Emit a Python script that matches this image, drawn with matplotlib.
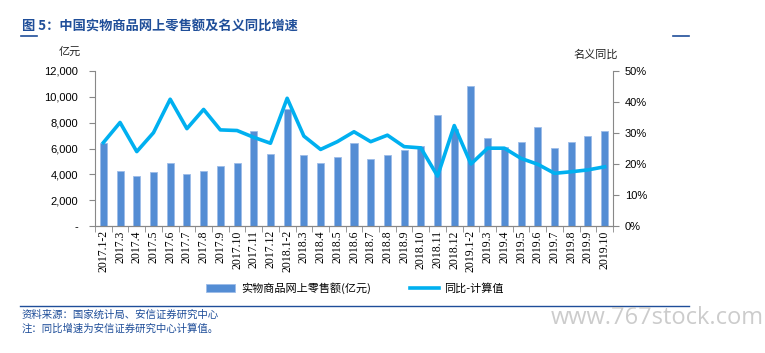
import matplotlib
matplotlib.use("Agg")
import matplotlib.pyplot as plt
from matplotlib.ticker import FuncFormatter
import numpy as np

plt.rcParams['font.family'] = ['Noto Sans CJK SC', 'DejaVu Sans']

categories = ["2017.1-2", "2017.3", "2017.4", "2017.5", "2017.6", "2017.7", "2017.8", "2017.9",
              "2017.10", "2017.11", "2017.12", "2018.1-2", "2018.3", "2018.4", "2018.5", "2018.6",
              "2018.7", "2018.8", "2018.9", "2018.10", "2018.11", "2018.12", "2019.1-2", "2019.3",
              "2019.4", "2019.5", "2019.6", "2019.7", "2019.8", "2019.9", "2019.10"]
sales = [6400, 4260, 3870, 4150, 4880, 4030, 4260, 4670, 4880, 7330, 5600, 9060, 5470, 4880, 5320,
         6400, 5160, 5520, 5880, 6170, 8570, 7480, 10860, 6810, 6090, 6500, 7690, 6040, 6500, 6970, 7330]
yoy = [26.9, 33.4, 24.0, 30.1, 40.9, 31.4, 37.6, 31.0, 30.8, 28.6, 26.7, 41.2, 29.0, 24.7, 27.2,
       30.4, 27.2, 29.3, 25.6, 25.2, 16.1, 32.4, 20.0, 25.1, 25.1, 21.8, 19.9, 17.0, 17.5, 18.1, 19.1]

bar_color = "#548DD4"
line_color = "#00B0F0"
title_color = "#1F4E99"

fig = plt.figure(figsize=(7.65, 3.53), dpi=100)
ax = fig.add_axes([95/765, 1-226/353, 518/765, 155/353])
ax2 = ax.twinx()

x = np.arange(len(categories))
ax.bar(x, sales, width=0.42, color=bar_color, edgecolor="#9DBCE8", linewidth=0.6, zorder=2,
       label="实物商品网上零售额(亿元)")
ax2.plot(x, yoy, color=line_color, lw=2.6, zorder=3, label="同比-计算值")

ax.set_xlim(-0.5, len(categories)-0.5)
ax.set_ylim(0, 12000)
ax.set_yticks(np.arange(0, 12001, 2000))
ax.yaxis.set_major_formatter(FuncFormatter(lambda v, p: "-" if v == 0 else f"{int(v):,}"))
ax2.set_ylim(0, 50)
ax2.set_yticks(np.arange(0, 51, 10))
ax2.yaxis.set_major_formatter(FuncFormatter(lambda v, p: f"{int(v)}%"))

ax.set_xticks(x)
ax.set_xticklabels(categories, rotation=90, fontsize=8.5, family=['Liberation Serif'])
ax.set_xticks(np.arange(-0.5, len(categories), 1), minor=True)
ax.tick_params(axis='x', which='major', length=0, pad=3)
ax.tick_params(axis='x', which='minor', length=4, color="#888888")

for a in (ax, ax2):
    a.spines["top"].set_visible(False)
    a.spines["bottom"].set_color("#888888")
    a.spines["left"].set_color("#888888")
    a.spines["right"].set_color("#888888")
ax.spines["right"].set_visible(False)
ax2.spines["left"].set_visible(False)
ax.tick_params(axis='y', labelsize=8, length=4, color="#888888", pad=8)
ax2.tick_params(axis='y', labelsize=8, length=4, color="#888888", pad=4.5)
for lab in ax.get_yticklabels() + ax2.get_yticklabels():
    lab.set_family(['Liberation Sans'])

# Titles / labels
fig.text(22/765, 1-27/353, "图 5：中国实物商品网上零售额及名义同比增速", fontsize=9.5, fontweight='bold',
         color=title_color, va='center', ha='left')
fig.add_artist(plt.Line2D([21/765, 37/765], [1-36/353, 1-36/353], color=title_color, lw=1.2))
fig.add_artist(plt.Line2D([673/765, 689/765], [1-36/353, 1-36/353], color=title_color, lw=1.2))
fig.text(70/765, 1-52/353, "亿元", fontsize=8, ha='center', va='center', color="#222222")
fig.text(596/765, 1-55/353, "名义同比", fontsize=8, ha='center', va='center', color="#222222")

# Legend
h1, l1 = ax.get_legend_handles_labels()
h2, l2 = ax2.get_legend_handles_labels()
fig.legend(h1 + h2, l1 + l2, loc='center', bbox_to_anchor=(355/765, 1-288/353), ncol=2,
           frameon=False, fontsize=8, handlelength=2.6, columnspacing=3.5, handletextpad=0.5)

# Bottom rule and notes
fig.add_artist(plt.Line2D([20/765, 689/765], [1-306/353, 1-306/353], color=title_color, lw=1.0))
fig.text(22/765, 1-315/353, "资料来源：国家统计局、安信证券研究中心", fontsize=7.5, color=title_color,
         ha='left', va='center', style='italic')
fig.text(22/765, 1-329/353, "注：同比增速为安信证券研究中心计算值。", fontsize=7.5, color=title_color,
         ha='left', va='center', style='italic')
fig.text(657/765, 1-318/353, "www.767stock.com", fontsize=17, color="#CCCCCC", ha='center', va='center',
         family=['Open Sans', 'DejaVu Sans'])

fig.savefig("out.png", dpi=100)
